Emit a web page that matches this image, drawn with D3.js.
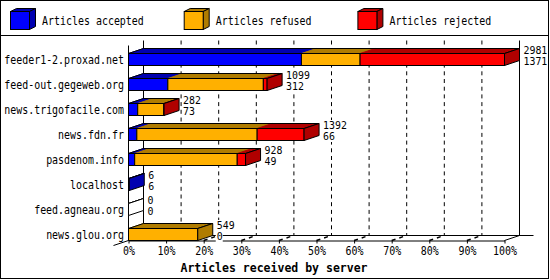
<!DOCTYPE html>
<html><head><meta charset="utf-8">
<script src="https://cdn.jsdelivr.net/npm/d3@7/dist/d3.min.js"></script>
<style>body{margin:0;background:#fff}svg{display:block}</style>
</head><body>
<script>
const categories = ["feeder1-2.proxad.net","feed-out.gegeweb.org","news.trigofacile.com","news.fdn.fr","pasdenom.info","localhost","feed.agneau.org","news.glou.org"];
const received = [2981, 1099, 282, 1392, 928, 6, 0, 549];
const accepted = [1371, 312, 73, 66, 49, 6, 0, 0];
const refused  = [465, 757, 207, 954, 813, 0, 0, 549];
const rejected = [1145, 30, 2, 372, 66, 0, 0, 0];
const seriesNames = ["Articles accepted","Articles refused","Articles rejected"];
const tickPercents = [0,10,20,30,40,50,60,70,80,90,100];
const axisTitle = "Articles received by server";

const colors = ["#0000ff","#ffb000","#ff0000"];
const darks  = ["#0000b0","#b07c00","#b00000"];
const FONT = "'DejaVu Sans Mono', monospace";
const SX = 0.83;

const W = 550, H = 280;
const svg = d3.select("body").append("svg").attr("width", W).attr("height", H);
svg.append("rect").attr("width", W).attr("height", H).attr("fill", "#fff");

function txt(g, x, y, s, anchor, opts = {}) {
  const t = g.append("text")
    .attr("transform", `translate(${x},${y}) scale(${opts.sx || SX},1)`)
    .attr("text-anchor", anchor || "start")
    .attr("font-family", FONT)
    .attr("font-size", opts.size || 12)
    .attr("font-weight", opts.bold ? "bold" : "normal")
    .attr("fill", "#000")
    .text(s);
  return t;
}

// frame
svg.append("rect").attr("x", 0.5).attr("y", 0.5).attr("width", 548).attr("height", 278)
  .attr("fill", "none").attr("stroke", "#000");
svg.append("line").attr("x1", 0).attr("x2", 549).attr("y1", 35.5).attr("y2", 35.5).attr("stroke", "#000");

// legend
const leg = svg.append("g");
seriesNames.forEach((n, i) => {
  const lx = 10.5 + i * 173.7, ly = 11.5, w = 19, h = 18, dx = 6, dy = 3;
  leg.append("polygon").attr("points", [[lx, ly], [lx + dx, ly - dy], [lx + w + dx, ly - dy], [lx + w, ly]].join(" "))
    .attr("fill", darks[i]).attr("stroke", "#000");
  leg.append("polygon").attr("points", [[lx + w, ly], [lx + w + dx, ly - dy], [lx + w + dx, ly + h - dy], [lx + w, ly + h]].join(" "))
    .attr("fill", darks[i]).attr("stroke", "#000");
  leg.append("rect").attr("x", lx).attr("y", ly).attr("width", w).attr("height", h)
    .attr("fill", colors[i]).attr("stroke", "#000");
  txt(leg, lx + 31.5, 24.5, n, "start");
});

// scales
const DX = 15, DY = 5;
const maxTotal = d3.max(received);
const x = d3.scaleLinear().domain([0, maxTotal]).range([128.5, 504.5]);
const xp = d3.scaleLinear().domain([0, 100]).range([128.5, 504.5]);
const y = d3.scalePoint().domain(categories).range([59, 234]);
const yTop = 40.5, yFloor = 240.5;

const grid = svg.append("g");
// back grid lines
tickPercents.forEach(p => {
  const gx = xp(p) + DX;
  const l = grid.append("line").attr("x1", gx).attr("x2", gx).attr("y1", yTop).attr("y2", yFloor - DY)
    .attr("stroke", "#000");
  if (p !== 0 && p !== 100) l.attr("stroke-dasharray", "4,3.7");
});
// front left wall line
grid.append("line").attr("x1", xp(0)).attr("x2", xp(0)).attr("y1", yTop + DY).attr("y2", yFloor).attr("stroke", "#000");
// floor back line
grid.append("line").attr("x1", xp(0) + DX).attr("x2", xp(100) + 2 * DX - 1).attr("y1", yFloor - DY).attr("y2", yFloor - DY).attr("stroke", "#000");
// floor left diagonal
grid.append("line").attr("x1", xp(0) - DX).attr("y1", yFloor + DY).attr("x2", xp(0) + DX).attr("y2", yFloor - DY).attr("stroke", "#000");
// floor right diagonal
grid.append("line").attr("x1", xp(100)).attr("y1", yFloor).attr("x2", xp(100) + DX).attr("y2", yFloor - DY).attr("stroke", "#000");
// tick diagonals
tickPercents.slice(1, -1).forEach(p => {
  grid.append("line").attr("x1", xp(p)).attr("y1", yFloor).attr("x2", xp(p) + DX).attr("y2", yFloor - DY)
    .attr("stroke", "#000").attr("stroke-width", 1.4).attr("stroke-dasharray", "4,4,4,8");
});

// front axis
const axis = d3.axisBottom(xp).tickValues(tickPercents).tickSize(3).tickSizeOuter(0).tickFormat(d => d + "%");
const ag = svg.append("g").attr("transform", `translate(0,${yFloor})`).call(axis);
ag.select(".domain").attr("stroke", "#000");
ag.selectAll(".tick line").attr("stroke", "#000");
ag.selectAll(".tick text").attr("y", 0).attr("dy", 0)
  .attr("transform", `translate(0,14.5) scale(${SX},1)`)
  .attr("font-family", FONT).attr("font-size", 12).attr("fill", "#000");

// bars
const bars = svg.append("g");
categories.forEach((c, i) => {
  const vals = [accepted[i], refused[i], rejected[i]];
  const y0 = y(c) - 6 + 0.5, h = 12;
  let cum = 0, lastIdx = -1;
  vals.forEach((v, k) => {
    const a = cum, b = cum + v; cum = b;
    if (v <= 0) return;
    lastIdx = k;
    bars.append("polygon")
      .attr("points", [[x(a), y0], [x(a) + DX, y0 - DY], [x(b) + DX, y0 - DY], [x(b), y0]].join(" "))
      .attr("fill", darks[k]).attr("stroke", darks[k]);
    bars.append("rect").attr("x", x(a)).attr("y", y0).attr("width", x(b) - x(a)).attr("height", h)
      .attr("fill", colors[k]).attr("stroke", "#000");
  });
  const xe = x(cum);
  bars.append("polygon")
    .attr("points", [[x(0), y0], [x(0) + DX, y0 - DY], [xe + DX, y0 - DY], [xe, y0]].join(" "))
    .attr("fill", "none").attr("stroke", "#000");
  bars.append("polygon")
    .attr("points", [[xe, y0], [xe + DX, y0 - DY], [xe + DX, y0 + h - DY], [xe, y0 + h]].join(" "))
    .attr("fill", lastIdx >= 0 ? darks[lastIdx] : "#fff").attr("stroke", "#000");

  // value labels
  const lx = x(received[i]) + DX + 4;
  [[received[i], y(c) - 5], [accepted[i], y(c) + 6]].forEach(([v, by]) => {
    const s = String(v);
    bars.append("rect").attr("x", lx - 1).attr("y", by - 9).attr("width", s.length * 6 + 1).attr("height", 11).attr("fill", "#fff");
    txt(bars, lx, by, s, "start", { size: 11, sx: 0.9 });
  });
  // category label
  txt(bars, 124, y(c) + 4.5, c, "end");
});

// axis title
txt(svg, 274, 271.5, axisTitle, "middle", { bold: true, sx: 0.96 });
</script>
</body></html>
